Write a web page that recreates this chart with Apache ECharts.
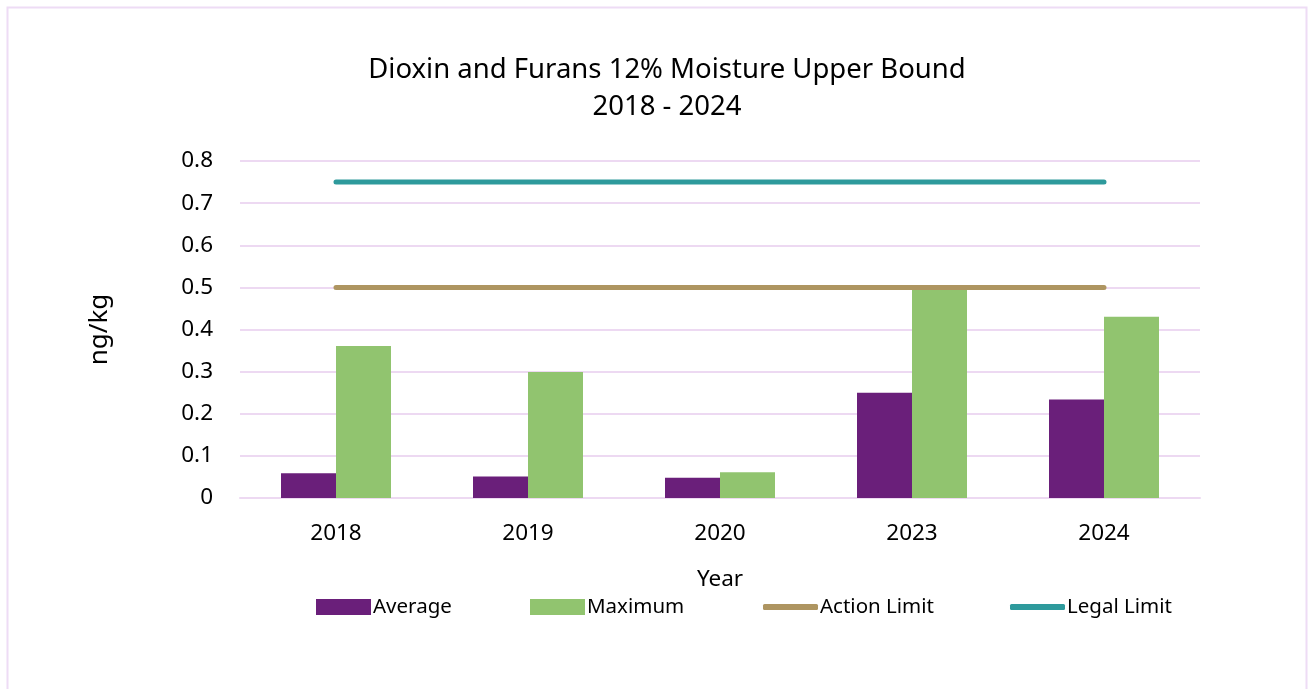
<!DOCTYPE html>
<html>
<head>
<meta charset="utf-8">
<script src="https://cdn.jsdelivr.net/npm/echarts@6/dist/echarts.min.js"></script>
<style>
  html, body { margin: 0; padding: 0; background: #fff; }
  #chart { width: 1309px; height: 689px; }
</style>
</head>
<body>
<div id="chart"></div>
<script>
var years = ['2018', '2019', '2020', '2023', '2024'];
var averageVals = [0.059, 0.051, 0.048, 0.25, 0.234];
var maximumVals = [0.361, 0.299, 0.061, 0.498, 0.43];
var actionLimit = [0.5, 0.5, 0.5, 0.5, 0.5];
var legalLimit = [0.75, 0.75, 0.75, 0.75, 0.75];
var yTicks = [0, 0.1, 0.2, 0.3, 0.4, 0.5, 0.6, 0.7, 0.8];

var chart = echarts.init(document.getElementById('chart'));
var fontFam = '"Noto Sans", "Open Sans", sans-serif';

// one legend per entry so every swatch sits where the original has it
function legendAt(name, left, isLine) {
    return {
        left: left,
        top: 593,
        padding: 0,
        itemWidth: 55,
        itemHeight: isLine ? 6 : 16,
        icon: isLine ? 'roundRect' : 'rect',
        textStyle: { fontSize: 20.5, color: '#000', fontFamily: fontFam, padding: [0, 0, 0, -3], lineHeight: 28 },
        data: [name]
    };
}

var option = {
    backgroundColor: '#fff',
    animation: false,
    textStyle: { fontFamily: fontFam },
    graphic: [{
        type: 'rect',
        shape: { x: 7.5, y: 7.5, width: 1299, height: 700 },
        style: { fill: 'none', stroke: '#EEDCF5', lineWidth: 2 }
    }],
    title: {
        text: 'Dioxin and Furans 12% Moisture Upper Bound\n2018 - 2024',
        left: 662,
        textAlign: 'center',
        top: 47,
        textStyle: {
            fontFamily: fontFam,
            fontWeight: 'normal',
            fontSize: 27.5,
            lineHeight: 37,
            color: '#000'
        }
    },
    legend: [
        legendAt('Average', 316, false),
        legendAt('Maximum', 530, false),
        legendAt('Action Limit', 763, true),
        legendAt('Legal Limit', 1010, true)
    ],
    grid: {
        left: 240,
        right: 109,
        top: 161,
        bottom: 191
    },
    xAxis: {
        type: 'category',
        data: years,
        name: 'Year',
        nameLocation: 'middle',
        nameGap: 70,
        nameTextStyle: { fontSize: 22.5, color: '#000' },
        axisTick: { show: false },
        axisLine: { lineStyle: { color: '#EDD9F2', width: 2 } },
        axisLabel: { fontSize: 22.5, color: '#000', margin: 24 }
    },
    yAxis: {
        type: 'value',
        min: yTicks[0],
        max: yTicks[yTicks.length - 1],
        interval: 0.1,
        name: 'ng/kg',
        nameLocation: 'middle',
        nameGap: 127,
        nameRotate: 90,
        nameTextStyle: { fontSize: 26, color: '#000' },
        axisLine: { show: false },
        axisTick: { show: false },
        axisLabel: {
            fontSize: 22.5, color: '#000', margin: 27,
            formatter: function (v) { return String(Math.round(v * 10) / 10); }
        },
        splitLine: { lineStyle: { color: '#EDD9F2', width: 2 } }
    },
    series: [
        {
            name: 'Average',
            type: 'bar',
            data: averageVals,
            barWidth: 55,
            barGap: '0%',
            itemStyle: { color: '#6A1F7A' }
        },
        {
            name: 'Maximum',
            type: 'bar',
            data: maximumVals,
            barWidth: 55,
            itemStyle: { color: '#91C46F' }
        },
        {
            name: 'Action Limit',
            type: 'line',
            data: actionLimit,
            symbol: 'none',
            lineStyle: { color: '#AE9561', width: 5, cap: 'round' },
            itemStyle: { color: '#AE9561' }
        },
        {
            name: 'Legal Limit',
            type: 'line',
            data: legalLimit,
            symbol: 'none',
            lineStyle: { color: '#2E9A9C', width: 5, cap: 'round' },
            itemStyle: { color: '#2E9A9C' }
        }
    ]
};

chart.setOption(option);
</script>
</body>
</html>
